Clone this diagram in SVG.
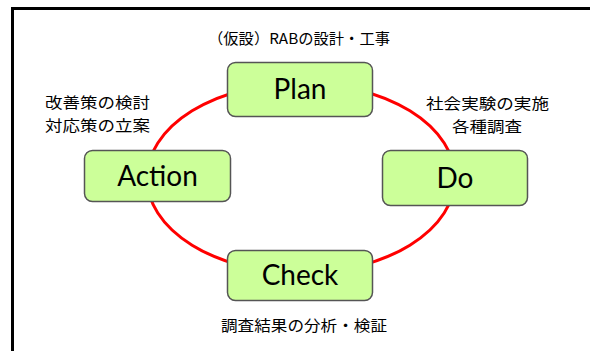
<svg xmlns="http://www.w3.org/2000/svg" width="590" height="351" viewBox="0 0 590 351">
<style>
.box{fill:#CCFF99;stroke:#555555;stroke-width:1.5}
.lbl{font-family:Lato,"Open Sans",sans-serif;font-size:28px;fill:#000;text-anchor:middle}
.jp{font-family:"Noto Sans CJK JP",sans-serif;font-size:15px;fill:#000}
</style>
<rect width="590" height="351" fill="#fff"/>
<g id="frame" fill="none" stroke="#000" stroke-width="3">
<path d="M12.5,351 V8.5 H590"/>
</g>
<g id="connectors">
<ellipse cx="301" cy="178" rx="154" ry="95" fill="none" stroke="#FF0000" stroke-width="3"/>
</g>
<g id="plan"><rect class="box" x="227.5" y="62.5" width="145" height="54" rx="8"/><text class="lbl" x="300" y="99">Plan</text></g>
<g id="action"><rect class="box" x="84.5" y="150.5" width="146" height="51" rx="8"/><text class="lbl" x="157.5" y="186">Action</text></g>
<g id="do"><rect class="box" x="382.5" y="150.5" width="145" height="55" rx="8"/><text class="lbl" x="455" y="188">Do</text></g>
<g id="check"><rect class="box" x="227.5" y="250.5" width="145" height="50" rx="8"/><text class="lbl" x="300" y="285">Check</text></g>
<g id="labels">
<text class="jp" x="208" y="44" textLength="182" lengthAdjust="spacingAndGlyphs">（仮設）RABの設計・工事</text>
<text class="jp" x="45" y="108" textLength="105" lengthAdjust="spacingAndGlyphs">改善策の検討</text>
<text class="jp" x="45" y="131" textLength="105" lengthAdjust="spacingAndGlyphs">対応策の立案</text>
<text class="jp" x="426" y="109" textLength="123" lengthAdjust="spacingAndGlyphs">社会実験の実施</text>
<text class="jp" x="452" y="132" textLength="70" lengthAdjust="spacingAndGlyphs">各種調査</text>
<text class="jp" x="221" y="331" textLength="166" lengthAdjust="spacingAndGlyphs">調査結果の分析・検証</text>
</g>
</svg>
